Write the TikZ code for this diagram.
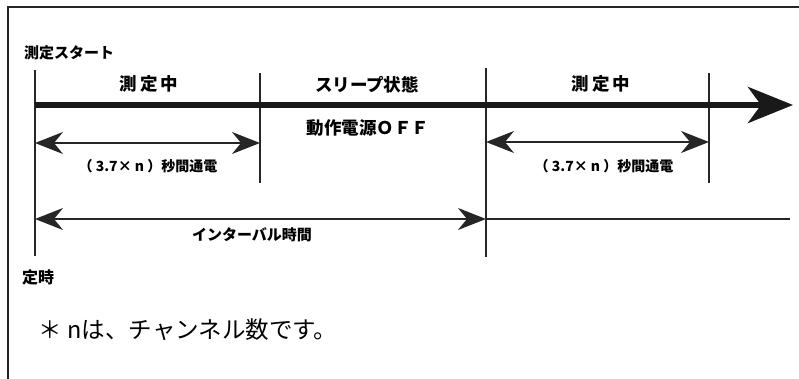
\documentclass[tikz,border=0pt]{standalone}
\usepackage{fontspec}
\newfontfamily\jp{Noto Sans CJK JP}
\usetikzlibrary{arrows.meta}
\begin{document}
\begin{tikzpicture}[x=1pt,y=-1pt,
  thin line/.style={line width=1.4pt, draw=black!85},
  tick/.style={line width=1.3pt, draw=black!85},
  dim/.style={line width=1.4pt, draw=black!85, {Stealth[length=28pt,width=22pt,inset=9pt]}-{Stealth[length=28pt,width=22pt,inset=9pt]}},
  lbl/.style={font=\jp\bfseries\fontsize{17.5}{18}\selectfont, inner sep=0pt},
  small/.style={font=\jp\bfseries\fontsize{14}{14}\selectfont, inner sep=0pt},
  side/.style={font=\jp\bfseries\fontsize{15}{15}\selectfont, inner sep=0pt},
  note/.style={font=\jp\fontsize{23.5}{24}\selectfont, inner sep=0pt}]
\useasboundingbox (0,0) rectangle (799,379);
% frame
\coordinate (fTL) at (8,7);
\coordinate (fTR) at (799,7);
\coordinate (fBL) at (8,379);
\draw[line width=2pt, draw=black!85] (fTR) -- (fTL) -- (fBL);
% ticks
\coordinate (t1a) at (35,70);  \coordinate (t1b) at (35,256);
\coordinate (t2a) at (260,73); \coordinate (t2b) at (260,183);
\coordinate (t3a) at (486,68); \coordinate (t3b) at (486,257);
\coordinate (t4a) at (709,73); \coordinate (t4b) at (709,183);
\draw[tick] (t1a) -- (t1b);
\draw[tick] (t2a) -- (t2b);
\draw[tick] (t3a) -- (t3b);
\draw[tick] (t4a) -- (t4b);
% main thick arrow
\coordinate (m0) at (35,105);
\coordinate (m1) at (793,105);
\draw[line width=6pt, draw=black!90, -{Stealth[length=45pt,width=36pt,inset=13pt]}] (m0) -- (m1);
% dimension arrows
\coordinate (d1a) at (35,143);  \coordinate (d1b) at (260,143);
\coordinate (d2a) at (486,142); \coordinate (d2b) at (709,142);
\draw[dim] (d1a) -- (d1b);
\draw[dim] (d2a) -- (d2b);
% interval
\coordinate (ia) at (35,219); \coordinate (ib) at (486,219); \coordinate (ic) at (790,219);
\draw[dim] (ia) -- (ib);
\draw[thin line] (ib) -- (ic);
% texts
\node[side] (start) at (69,53) {測定スタート};
\node[lbl] (meas1) at (149,84) {測\,定\,中};
\node[lbl] (sleep) at (367,85) {スリープ状態};
\node[lbl] (meas2) at (601,84) {測\,定\,中};
\node[lbl] (off) at (368,128) {動作電源ＯＦＦ};
\node[small] (on1) at (148,166) {（ 3.7× n ）秒間通電};
\node[small] (on2) at (604,166) {（ 3.7× n ）秒間通電};
\node[side] (intv) at (252,235) {インターバル時間};
\node[side, font=\jp\bfseries\fontsize{16}{16}\selectfont] (teiji) at (38,277) {定時};
\node[note] (nb) at (188,330) {＊ nは、チャンネル数です。};
\end{tikzpicture}
\end{document}
